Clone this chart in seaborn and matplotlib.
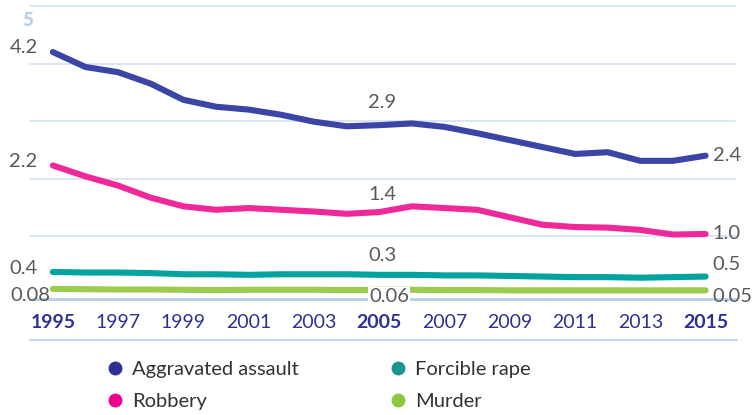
import matplotlib

matplotlib.use("Agg")

import matplotlib.pyplot as plt  # noqa: E402
import matplotlib.transforms as mtransforms  # noqa: E402
import pandas as pd  # noqa: E402
import seaborn as sns  # noqa: E402
from matplotlib.lines import Line2D  # noqa: E402

sns.set_theme(style="white")
plt.rcParams["font.family"] = ["Lato", "DejaVu Sans"]

# rates per 1,000 people
years = list(range(1995, 2016))
assault = [4.20, 3.94, 3.85, 3.65, 3.37, 3.25, 3.20, 3.11, 2.99, 2.91, 2.93,
           2.96, 2.90, 2.79, 2.67, 2.55, 2.43, 2.46, 2.31, 2.31, 2.40]
robbery = [2.23, 2.04, 1.88, 1.67, 1.52, 1.46, 1.49, 1.46, 1.43, 1.39, 1.42,
           1.52, 1.49, 1.46, 1.33, 1.20, 1.16, 1.15, 1.11, 1.03, 1.04]
rape = [0.38, 0.37, 0.37, 0.36, 0.34, 0.34, 0.33, 0.34, 0.34, 0.34, 0.33,
        0.33, 0.32, 0.32, 0.31, 0.30, 0.29, 0.29, 0.28, 0.29, 0.30]
murder = [0.085, 0.08, 0.075, 0.075, 0.07, 0.065, 0.07, 0.07, 0.07, 0.065,
          0.07, 0.07, 0.065, 0.065, 0.06, 0.06, 0.06, 0.06, 0.06, 0.06, 0.06]

series_names = ["Aggravated assault", "Robbery", "Forcible rape", "Murder"]
line_colors = ["#3b45a6", "#f0299a", "#00a39e", "#9ccc4e"]
legend_colors = ["#2e3192", "#ec008c", "#1a958f", "#8dc63f"]

# value labels at the start, middle (2005) and end of each line
start_labels = ["4.2", "2.2", "0.4", "0.08"]
mid_labels = ["2.9", "1.4", "0.3", "0.06"]
end_labels = ["2.4", "1.0", "0.5", "0.05"]

tick_years = list(range(1995, 2016, 2))
bold_years = [1995, 2005, 2015]

df = pd.DataFrame({
    "year": years * 4,
    "value": assault + robbery + rape + murder,
    "crime": [n for n in series_names for _ in years],
})

fig = plt.figure(figsize=(7.53, 4.15), dpi=100)
ax = fig.add_axes([30 / 753, 1 - 299 / 415, 705 / 753, 293 / 415])

sns.lineplot(data=df, x="year", y="value", hue="crime", hue_order=series_names,
             palette=line_colors, linewidth=4.4, legend=False, ax=ax,
             solid_capstyle="round")

ax.set_xlim(1994.3, 2015.9)
ax.set_ylim(-0.09, 5.0)
ax.set_yticks([1, 2, 3, 4, 5])
ax.set_yticklabels([])
ax.grid(axis="y", color="#dce6f2", linewidth=1.4)
ax.grid(axis="x", visible=False)
for side in ["top", "right", "left"]:
    ax.spines[side].set_visible(False)
ax.spines["bottom"].set_color("#b7cde6")
ax.spines["bottom"].set_linewidth(2)
for gl in ax.get_ygridlines():
    gl.set_clip_on(False)

ax.set_xticks(tick_years)
ax.set_xticklabels([str(y) for y in tick_years])
ax.tick_params(axis="x", length=0, pad=11, labelsize=14, labelcolor="#2e3192")
ax.tick_params(axis="y", length=0)
for lab, y in zip(ax.get_xticklabels(), tick_years):
    if y in bold_years:
        lab.set_fontweight("bold")
ax.set_xlabel("")
ax.set_ylabel("")

trans = mtransforms.blended_transform_factory(ax.transAxes, ax.transData)
ax.text(-0.011, 4.9, "5", transform=trans, ha="left", va="top",
        fontsize=13.5, fontweight="heavy", color="#b8d0ea")

data_cols = [assault, robbery, rape, murder]
label_kw = dict(textcoords="offset points", fontsize=14.5, color="#595959",
                va="center", annotation_clip=False)
start_off = [(-11, 3.4), (-11, 2.7), (-11, 2.2), (-2, -4.5)]
for vals, txt, off in zip(data_cols, start_labels, start_off):
    ax.annotate(txt, (years[0], vals[0]), xytext=off, ha="right", **label_kw)
mid_i = years.index(2005)
mid_off = [(2, 16), (2, 13), (2, 14), (7, -4.5)]
for k, (vals, txt, off) in enumerate(zip(data_cols, mid_labels, mid_off)):
    extra = {}
    if k == 3:
        extra["bbox"] = dict(facecolor="white", edgecolor="none", pad=0.5)
    ax.annotate(txt, (years[mid_i], vals[mid_i]), xytext=off, ha="center",
                **label_kw, **extra)
end_off = [(5, 0), (5, 0), (5, 9), (5, -4.5)]
for vals, txt, off in zip(data_cols, end_labels, end_off):
    ax.annotate(txt, (years[-1], vals[-1]), xytext=off, ha="left", **label_kw)

# separator line above the legend
fig.add_artist(Line2D([30 / 753, 737 / 753], [1 - 340 / 415, 1 - 340 / 415],
                      color="#c5d6ec", linewidth=1.5))

handles = [Line2D([], [], linestyle="none", marker="o", markersize=9,
                  markerfacecolor=c, markeredgecolor=c) for c in legend_colors]
fig.legend(handles, series_names, ncol=2, loc="upper left",
           bbox_to_anchor=(95 / 753, 1 - 349 / 415), frameon=False,
           fontsize=14.5, labelcolor="#333333", handlelength=0.8,
           handletextpad=0.45, columnspacing=4.5, labelspacing=0.75,
           borderpad=0.1)

fig.savefig("out.png", dpi=100)
